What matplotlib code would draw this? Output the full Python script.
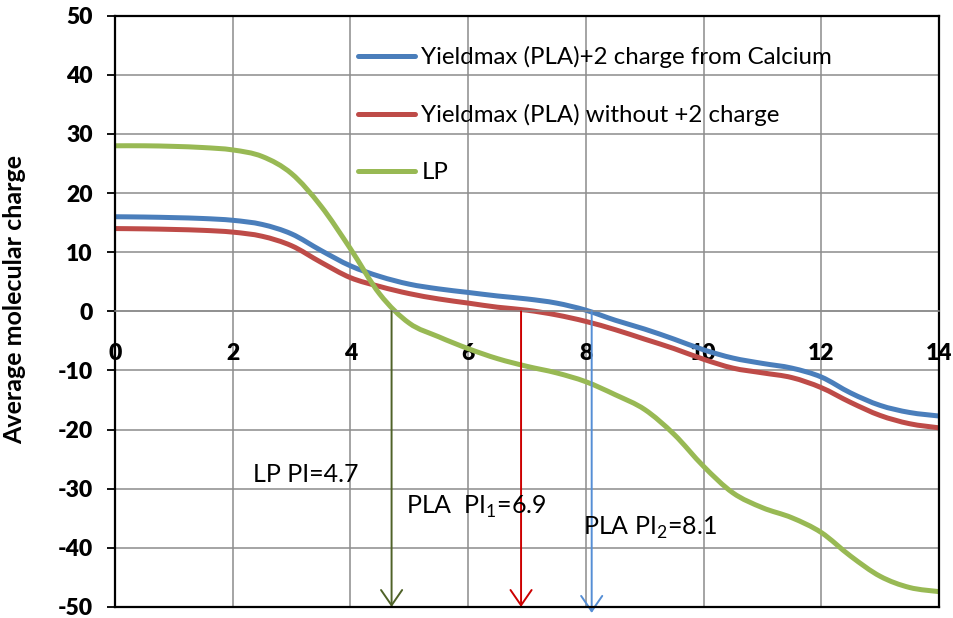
import matplotlib
matplotlib.use("Agg")
import matplotlib.pyplot as plt
from matplotlib.path import Path
from matplotlib.patches import PathPatch
from matplotlib.lines import Line2D

# pH values and average molecular charge curves
ph = [0, 0.5, 1, 1.5, 2, 2.5, 3, 3.5, 4, 4.5, 5, 5.5, 6, 6.5, 7, 7.5,
      8, 8.5, 9, 9.5, 10, 10.5, 11, 11.5, 12, 12.5, 13, 13.5, 14]
charge_pla_ca = [16.0, 15.95, 15.85, 15.7, 15.4, 14.7, 13.1, 10.3, 7.7, 5.9,
                 4.6, 3.8, 3.2, 2.6, 2.1, 1.4, 0.2, -1.5, -3.0, -4.7,
                 -6.5, -7.9, -8.8, -9.6, -11.1, -13.8, -15.9, -17.1, -17.7]
charge_pla = [14.0, 13.95, 13.85, 13.7, 13.4, 12.7, 11.1, 8.3, 5.7, 4.2,
              3.0, 2.1, 1.4, 0.7, 0.2, -0.6, -1.7, -3.1, -4.7, -6.3,
              -8.1, -9.6, -10.4, -11.2, -12.9, -15.4, -17.6, -19.0, -19.7]
charge_lp = [28.0, 28.0, 27.9, 27.7, 27.3, 26.2, 23.3, 17.8, 10.6, 2.9,
             -2.0, -4.3, -6.3, -8.0, -9.3, -10.4, -11.9, -14.1, -16.6, -20.8,
             -26.2, -30.7, -33.2, -34.9, -37.4, -41.4, -44.8, -46.7, -47.4]

series_labels = ["Yieldmax (PLA)+2 charge from Calcium",
                 "Yieldmax (PLA) without +2 charge",
                 "LP"]
series_colors = ["#4A7EBB", "#BE4B48", "#98B954"]

# isoelectric points marked with arrows
pi_values = [4.7, 6.9, 8.1]
pi_arrow_end = [-50, -50, -51]
pi_colors = ["#4F6228", "#CC0000", "#558ED5"]
pi_texts = ["LP PI=4.7",
            r"PLA  PI$_{\mathregular{1}}$=6.9",
            r"PLA PI$_{\mathregular{2}}$=8.1"]
pi_text_pos = [(2.35, -27.6), (4.95, -33.0), (7.95, -36.7)]

x_ticks = [0, 2, 4, 6, 8, 10, 12, 14]
y_ticks = [-50, -40, -30, -20, -10, 0, 10, 20, 30, 40, 50]

FONT = "Lato"
plt.rcParams["font.family"] = [FONT, "DejaVu Sans"]
plt.rcParams["mathtext.fontset"] = "custom"
plt.rcParams["mathtext.rm"] = FONT
plt.rcParams["axes.unicode_minus"] = False


def smooth_path(xs, ys):
    """Cubic Bezier path through the points (Catmull-Rom tangents)."""
    n = len(xs)
    verts = [(xs[0], ys[0])]
    codes = [Path.MOVETO]
    for i in range(n - 1):
        x0, y0 = xs[max(i - 1, 0)], ys[max(i - 1, 0)]
        x1, y1 = xs[i], ys[i]
        x2, y2 = xs[i + 1], ys[i + 1]
        x3, y3 = xs[min(i + 2, n - 1)], ys[min(i + 2, n - 1)]
        c1 = (x1 + (x2 - x0) / 6.0, y1 + (y2 - y0) / 6.0)
        c2 = (x2 - (x3 - x1) / 6.0, y2 - (y3 - y1) / 6.0)
        verts += [c1, c2, (x2, y2)]
        codes += [Path.CURVE4] * 3
    return Path(verts, codes)


fig = plt.figure(figsize=(9.54, 6.18), dpi=100)
ax = fig.add_axes([0.1205, 0.0178, 0.8637, 0.9568])

ax.set_xlim(0, 14)
ax.set_ylim(-50, 50)
ax.grid(True, color="#8C8C8C", lw=1.1)
ax.set_axisbelow(True)

handles = []
for vals, lab, col in zip([charge_pla_ca, charge_pla, charge_lp], series_labels, series_colors):
    ax.add_patch(PathPatch(smooth_path(ph, vals), fill=False, edgecolor=col,
                           lw=3.6, capstyle="round", joinstyle="round", zorder=2))
    handles.append(Line2D([], [], color=col, lw=3.6, solid_capstyle="round", label=lab))

for x, yend, col in zip(pi_values, pi_arrow_end, pi_colors):
    ax.annotate("", xy=(x, yend), xytext=(x, 0), annotation_clip=False,
                arrowprops=dict(arrowstyle="->,head_length=0.55,head_width=0.38",
                                color=col, lw=1.4, mutation_scale=20,
                                shrinkA=0, shrinkB=0))

for txt, (tx, ty) in zip(pi_texts, pi_text_pos):
    ax.text(tx, ty, txt, fontsize=18, va="center", ha="left", color="black")

# x axis crosses at zero; the outer frame stays black
ax.spines["bottom"].set_position(("data", 0))
ax.spines["bottom"].set_color("#8C8C8C")
ax.spines["bottom"].set_linewidth(1.1)
for s in ["left", "top", "right"]:
    ax.spines[s].set_color("black")
    ax.spines[s].set_linewidth(1.6)
ax.axhline(-50, color="black", lw=1.6, clip_on=False, zorder=3)

ax.tick_params(axis="x", length=0, pad=23)
ax.tick_params(axis="y", direction="out", length=6, width=1.3, pad=10)
ax.set_xticks(x_ticks)
ax.set_xticklabels([str(v) for v in x_ticks])
ax.set_yticks(y_ticks)
ax.set_yticklabels([str(v) for v in y_ticks])
plt.setp(ax.get_xticklabels() + ax.get_yticklabels(), fontweight="heavy", fontsize=16.5)

ax.set_ylabel("Average molecular charge", fontsize=18, fontweight="bold")
ax.yaxis.set_label_coords(-0.108, 0.52)

ax.legend(handles=handles, loc="upper left", bbox_to_anchor=(0.283, 0.965),
          frameon=False, fontsize=17.3, handlelength=2.4, handletextpad=0.25,
          labelspacing=1.5, borderaxespad=0)

fig.savefig("out.png", dpi=100)
